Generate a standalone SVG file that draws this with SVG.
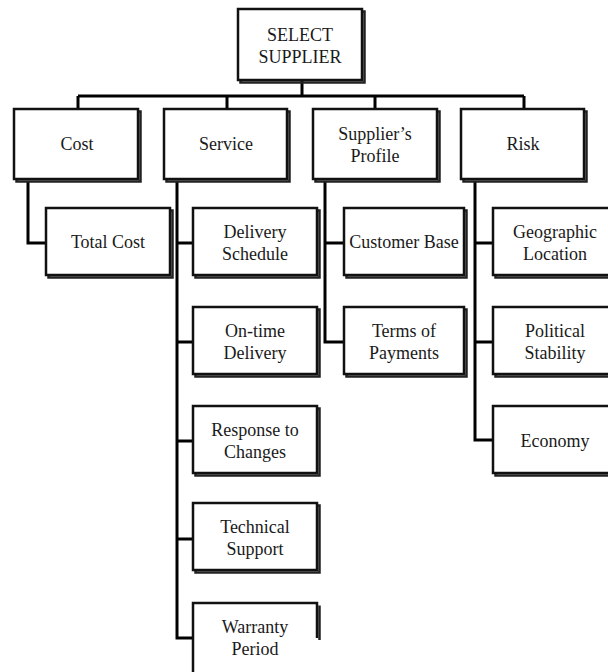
<svg xmlns="http://www.w3.org/2000/svg" width="608" height="672" viewBox="0 0 608 672">
<style>
.sh{fill:none;stroke:#222;stroke-width:2.5}
.bx{fill:#fff;stroke:#111;stroke-width:2.5}
.cn{fill:none;stroke:#000;stroke-width:3}
text{font-family:"Liberation Serif","Times New Roman",serif;font-size:18px;fill:#1a1a1a;text-anchor:middle}
</style>
<rect width="608" height="672" fill="#fff"/>
<g id="connectors">
<path class="cn" d="M302 81V96M78 96H524M78 96V109M227 96V109M375 96V109M524 96V109"/>
<path class="cn" d="M28 181V243H46"/>
<path class="cn" d="M177 181V638H193M177 243H193M177 342H193M177 441H193M177 539H193"/>
<path class="cn" d="M325 181V342H344M325 243H344"/>
<path class="cn" d="M475 181V440H493M475 243H493M475 342H493"/>
</g>
<g id="select-supplier"><rect class="sh" x="240.5" y="11.5" width="124" height="71"/><rect class="bx" x="238" y="9" width="124" height="71"/><text x="300" y="41">SELECT</text><text x="300" y="63">SUPPLIER</text></g>
<g id="cost"><rect class="sh" x="16.5" y="111.5" width="124" height="70"/><rect class="bx" x="14" y="109" width="124" height="70"/><text x="77" y="150">Cost</text></g>
<g id="service"><rect class="sh" x="166.5" y="111.5" width="123" height="70"/><rect class="bx" x="164" y="109" width="123" height="70"/><text x="226" y="150">Service</text></g>
<g id="suppliers-profile"><rect class="sh" x="315.5" y="111.5" width="124" height="70"/><rect class="bx" x="313" y="109" width="124" height="70"/><text x="375" y="140">Supplier’s</text><text x="375" y="162">Profile</text></g>
<g id="risk"><rect class="sh" x="463.5" y="111.5" width="123" height="70"/><rect class="bx" x="461" y="109" width="123" height="70"/><text x="523" y="150">Risk</text></g>
<g id="total-cost"><rect class="sh" x="48.5" y="210.5" width="124" height="67"/><rect class="bx" x="46" y="208" width="124" height="67"/><text x="108" y="248">Total Cost</text></g>
<g id="delivery-schedule"><rect class="sh" x="195.5" y="210.5" width="124" height="67"/><rect class="bx" x="193" y="208" width="124" height="67"/><text x="255" y="238">Delivery</text><text x="255" y="260">Schedule</text></g>
<g id="on-time-delivery"><rect class="sh" x="195.5" y="309.5" width="124" height="67"/><rect class="bx" x="193" y="307" width="124" height="67"/><text x="255" y="337">On-time</text><text x="255" y="359">Delivery</text></g>
<g id="response-to-changes"><rect class="sh" x="195.5" y="408.5" width="124" height="67"/><rect class="bx" x="193" y="406" width="124" height="67"/><text x="255" y="436">Response to</text><text x="255" y="458">Changes</text></g>
<g id="technical-support"><rect class="sh" x="195.5" y="505.5" width="124" height="67"/><rect class="bx" x="193" y="503" width="124" height="67"/><text x="255" y="533">Technical</text><text x="255" y="555">Support</text></g>
<g id="warranty-period"><path class="sh" d="M319.5 605.5V640"/><path class="bx" d="M193 680V603H317V638"/><text x="255" y="633">Warranty</text><text x="255" y="655">Period</text></g>
<g id="customer-base"><rect class="sh" x="346.5" y="210.5" width="120" height="67"/><rect class="bx" x="344" y="208" width="120" height="67"/><text x="404" y="248">Customer Base</text></g>
<g id="terms-of-payments"><rect class="sh" x="346.5" y="309.5" width="120" height="67"/><rect class="bx" x="344" y="307" width="120" height="67"/><text x="404" y="337">Terms of</text><text x="404" y="359">Payments</text></g>
<g id="geographic-location"><rect class="sh" x="495.5" y="210.5" width="124" height="67"/><rect class="bx" x="493" y="208" width="124" height="67"/><text x="555" y="238">Geographic</text><text x="555" y="260">Location</text></g>
<g id="political-stability"><rect class="sh" x="495.5" y="309.5" width="124" height="67"/><rect class="bx" x="493" y="307" width="124" height="67"/><text x="555" y="337">Political</text><text x="555" y="359">Stability</text></g>
<g id="economy"><rect class="sh" x="495.5" y="408.5" width="124" height="67"/><rect class="bx" x="493" y="406" width="124" height="67"/><text x="555" y="447">Economy</text></g>
</svg>
